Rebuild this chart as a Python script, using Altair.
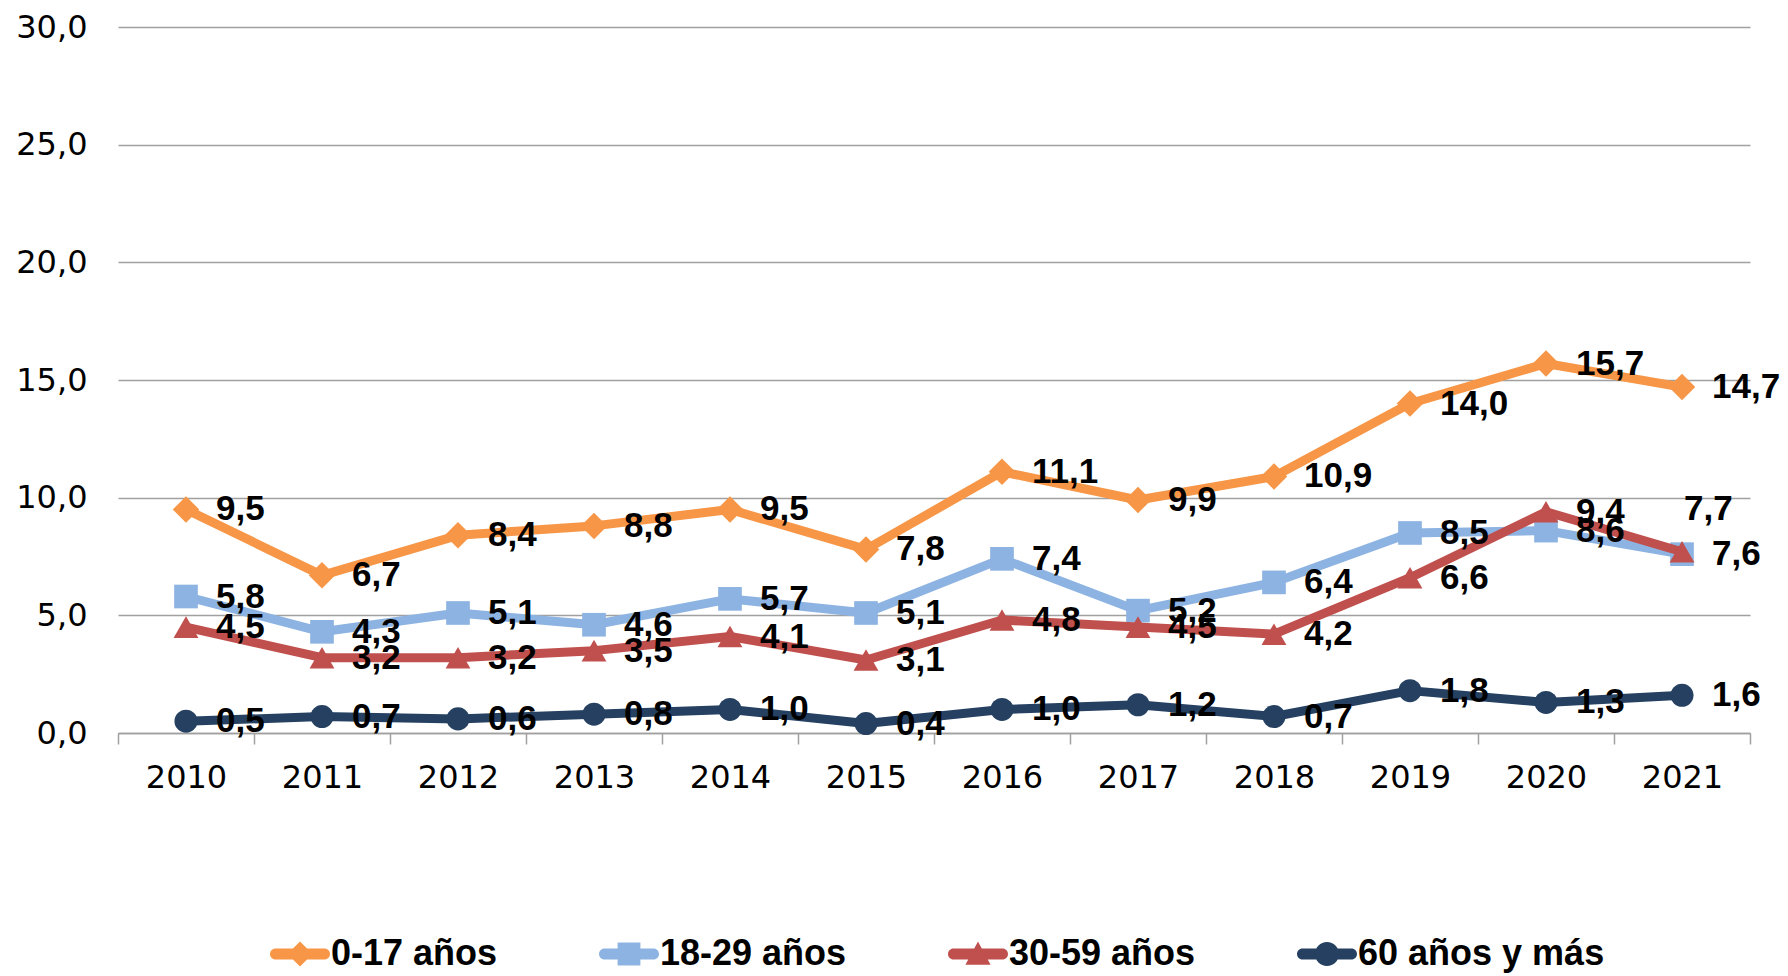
import altair as alt
import pandas as pd

# ---- data ----
years = list(range(2010, 2022))
series = ["0-17 años", "18-29 años", "30-59 años", "60 años y más"]
v_0_17 = [9.5, 6.7, 8.4, 8.8, 9.5, 7.8, 11.1, 9.9, 10.9, 14.0, 15.7, 14.7]
v_18_29 = [5.8, 4.3, 5.1, 4.6, 5.7, 5.1, 7.4, 5.2, 6.4, 8.5, 8.6, 7.6]
v_30_59 = [4.5, 3.2, 3.2, 3.5, 4.1, 3.1, 4.8, 4.5, 4.2, 6.6, 9.4, 7.7]
v_60 = [0.5, 0.7, 0.6, 0.8, 1.0, 0.4, 1.0, 1.2, 0.7, 1.8, 1.3, 1.6]
y_ticks = [0, 5, 10, 15, 20, 25, 30]

values = [v_0_17, v_18_29, v_30_59, v_60]

# ---- styles ----
colors = ["#F79646", "#8DB3E2", "#C0504D", "#254061"]
shapes = ["diamond", "square", "triangle-up", "circle"]
sizes = [700, 560, 620, 530]

LINE = ("M-0.817,-0.183 L0.817,-0.183 A0.183,0.183 0 0 1 0.817,0.183 "
        "L-0.817,0.183 A0.183,0.183 0 0 1 -0.817,-0.183 Z ")
legend_paths = [
    LINE + "M0,-0.42 L0.42,0 L0,0.42 L-0.42,0 Z",
    LINE + "M-0.38,-0.38 L0.38,-0.38 L0.38,0.38 L-0.38,0.38 Z",
    LINE + "M0,-0.42 L0.42,0.36 L-0.42,0.36 Z",
    LINE + "M-0.4,0 A0.4,0.4 0 1 1 0.4,0 A0.4,0.4 0 1 1 -0.4,0 Z",
]

rows = []
for s, vals in zip(series, values):
    for yr, v in zip(years, vals):
        rows.append({"serie": s, "anio": yr, "valor": v})
df = pd.DataFrame(rows)

x_edges = [y - 0.5 for y in years] + [years[-1] + 0.5]

x_enc = alt.X(
    "anio:Q",
    scale=alt.Scale(domain=[years[0] - 0.5, years[-1] + 0.5], nice=False, zero=False),
    axis=alt.Axis(
        values=x_edges,
        labelExpr=f"datum.value < {years[-1]} ? toString(datum.value + 0.5) : ''",
        labelOffset=68,
        labelFlush=False,
        labelOverlap=False,
        labelBound=False,
        grid=False,
        domainColor="#A0A0A0",
        domainWidth=1.5,
        tickColor="#A0A0A0",
        tickWidth=1.5,
        tickSize=11,
        labelFont="DejaVu Sans",
        labelFontSize=32,
        labelColor="#000000",
        labelPadding=18,
        title=None,
    ),
)
y_enc = alt.Y(
    "valor:Q",
    scale=alt.Scale(domain=[0, 30], nice=False, zero=True),
    axis=alt.Axis(
        values=y_ticks,
        labelExpr="replace(format(datum.value, '.1f'), '.', ',')",
        grid=True,
        gridColor="#A0A0A0",
        gridWidth=1.5,
        domain=False,
        ticks=False,
        labelFont="DejaVu Sans",
        labelFontSize=32,
        labelColor="#000000",
        labelPadding=31,
        title=None,
    ),
)

base = alt.Chart(df).encode(x=x_enc, y=y_enc)

layers = []
for s, c, sh, sz in zip(series, colors, shapes, sizes):
    sub = base.transform_filter(alt.datum.serie == s)
    layers.append(sub.mark_line(color=c, strokeWidth=9, strokeJoin="round", strokeCap="round"))
    layers.append(sub.mark_point(shape=sh, size=sz, filled=True, color=c, opacity=1, strokeWidth=0))

lab = base.transform_calculate(lbl="replace(format(datum.valor, '.1f'), '.', ',')")
special = "datum.serie == '30-59 años' && datum.anio == 2021"
text_style = dict(font="Liberation Sans", fontWeight="bold", fontSize=35, color="#000000",
                  align="left", baseline="middle")
layers.append(
    lab.transform_filter(f"!({special})").mark_text(dx=30, **text_style).encode(text="lbl:N")
)
layers.append(
    lab.transform_filter(special).mark_text(dx=2, dy=-43, **text_style).encode(text="lbl:N")
)

legend_kw = dict(
    title=None,
    orient="none",
    legendX=152,
    legendY=897,
    direction="horizontal",
    symbolSize=3600,
    symbolStrokeWidth=0,
    labelFont="Liberation Sans",
    labelFontWeight="bold",
    labelFontSize=36,
    labelColor="#000000",
    labelOffset=1,
    columnPadding=101,
    labelLimit=400,
)
legend_layer = base.transform_filter("false").mark_point(filled=True, opacity=1).encode(
    color=alt.Color("serie:N", scale=alt.Scale(domain=series, range=colors), legend=alt.Legend(**legend_kw)),
    shape=alt.Shape("serie:N", scale=alt.Scale(domain=series, range=legend_paths), legend=alt.Legend(**legend_kw)),
)
layers.append(legend_layer)

chart = alt.layer(*layers).properties(
    width=1632,
    height=706,
    autosize=alt.AutoSizeParams(type="none"),
    padding={"left": 110, "top": 19, "right": 30, "bottom": 241},
).configure_view(stroke=None)

chart.save("out.html", embed_options={"renderer": "svg", "actions": False})
